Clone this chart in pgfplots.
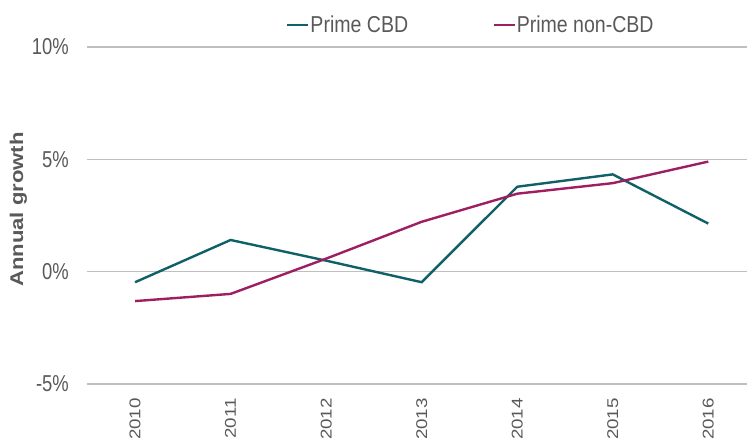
\documentclass[border=0pt]{standalone}
\usepackage{pgfplots}
\pgfplotsset{compat=1.18}
\usepackage{pgfplotstable}
\usepackage{fontspec}
\setmainfont{Liberation Sans}
\newfontfamily\ytickfont[FakeStretch=0.80]{Liberation Sans}
\newfontfamily\legfont[FakeStretch=0.85]{Liberation Sans}
\newfontfamily\xtickfont[FakeStretch=1.2]{Liberation Sans}
\newfontfamily\ylabfont[FakeStretch=1.2]{Liberation Sans Bold}
\definecolor{cbd}{RGB}{16,96,104}
\definecolor{noncbd}{RGB}{158,30,98}
\definecolor{txt}{RGB}{89,89,89}
\definecolor{grid}{RGB}{190,190,190}
\pgfplotstableread{
x cbd noncbd
0 -0.47 -1.31
1 1.41 -0.99
2 0.49 0.58
3 -0.47 2.22
4 3.78 3.47
5 4.33 3.94
6 2.14 4.90
}\growth
\begin{document}
\begin{tikzpicture}[x=1pt,y=1pt]
\path[use as bounding box] (0,0) rectangle (747,441);
\begin{axis}[
  at={(87pt,57pt)}, anchor=south west,
  width=660pt, height=337pt, scale only axis,
  xmin=-0.503, xmax=6.405,
  ymin=-5, ymax=10,
  ytick={-5,0,5,10},
  yticklabels={-5\%,0\%,5\%,10\%},
  xtick={0,...,6},
  xticklabels={2010,2011,2012,2013,2014,2015,2016},
  axis line style={draw=none},
  major tick length=0pt,
  ymajorgrids, xmajorgrids=false,
  grid style={grid, line width=1.3pt},
  tick label style={text=txt, inner sep=0pt},
  yticklabel style={font=\ytickfont\fontsize{23}{23}\selectfont, anchor=east, xshift=-18pt},
  xticklabel style={font=\xtickfont\fontsize{15.6}{15.6}\selectfont, rotate=90, anchor=east, xshift=-14pt},
  ylabel={Annual growth},
  ylabel style={font=\ylabfont\fontsize{18.4}{18.4}\selectfont, text=txt, at={(axis description cs:-0.104,0.518)}, anchor=center, rotate=0},
  legend columns=2,
  legend style={at={(rel axis cs:0.3015,1.065)}, anchor=west, draw=none, fill=none,
    inner sep=0pt, outer sep=0pt, font=\legfont\fontsize{23}{23}\selectfont, text=txt,
    nodes={inner sep=1pt},
    /tikz/every even column/.append style={column sep=83pt}},
  legend image code/.code={\draw[#1, line width=2.5pt] (0pt,0pt) -- (21pt,0pt);},
]
\addplot[cbd, line width=2.4pt, mark=none] table[x=x, y=cbd] {\growth};
\addlegendentry{Prime CBD}
\addplot[noncbd, line width=2.4pt, mark=none] table[x=x, y=noncbd] {\growth};
\addlegendentry{Prime non-CBD}
\end{axis}
\end{tikzpicture}
\end{document}
